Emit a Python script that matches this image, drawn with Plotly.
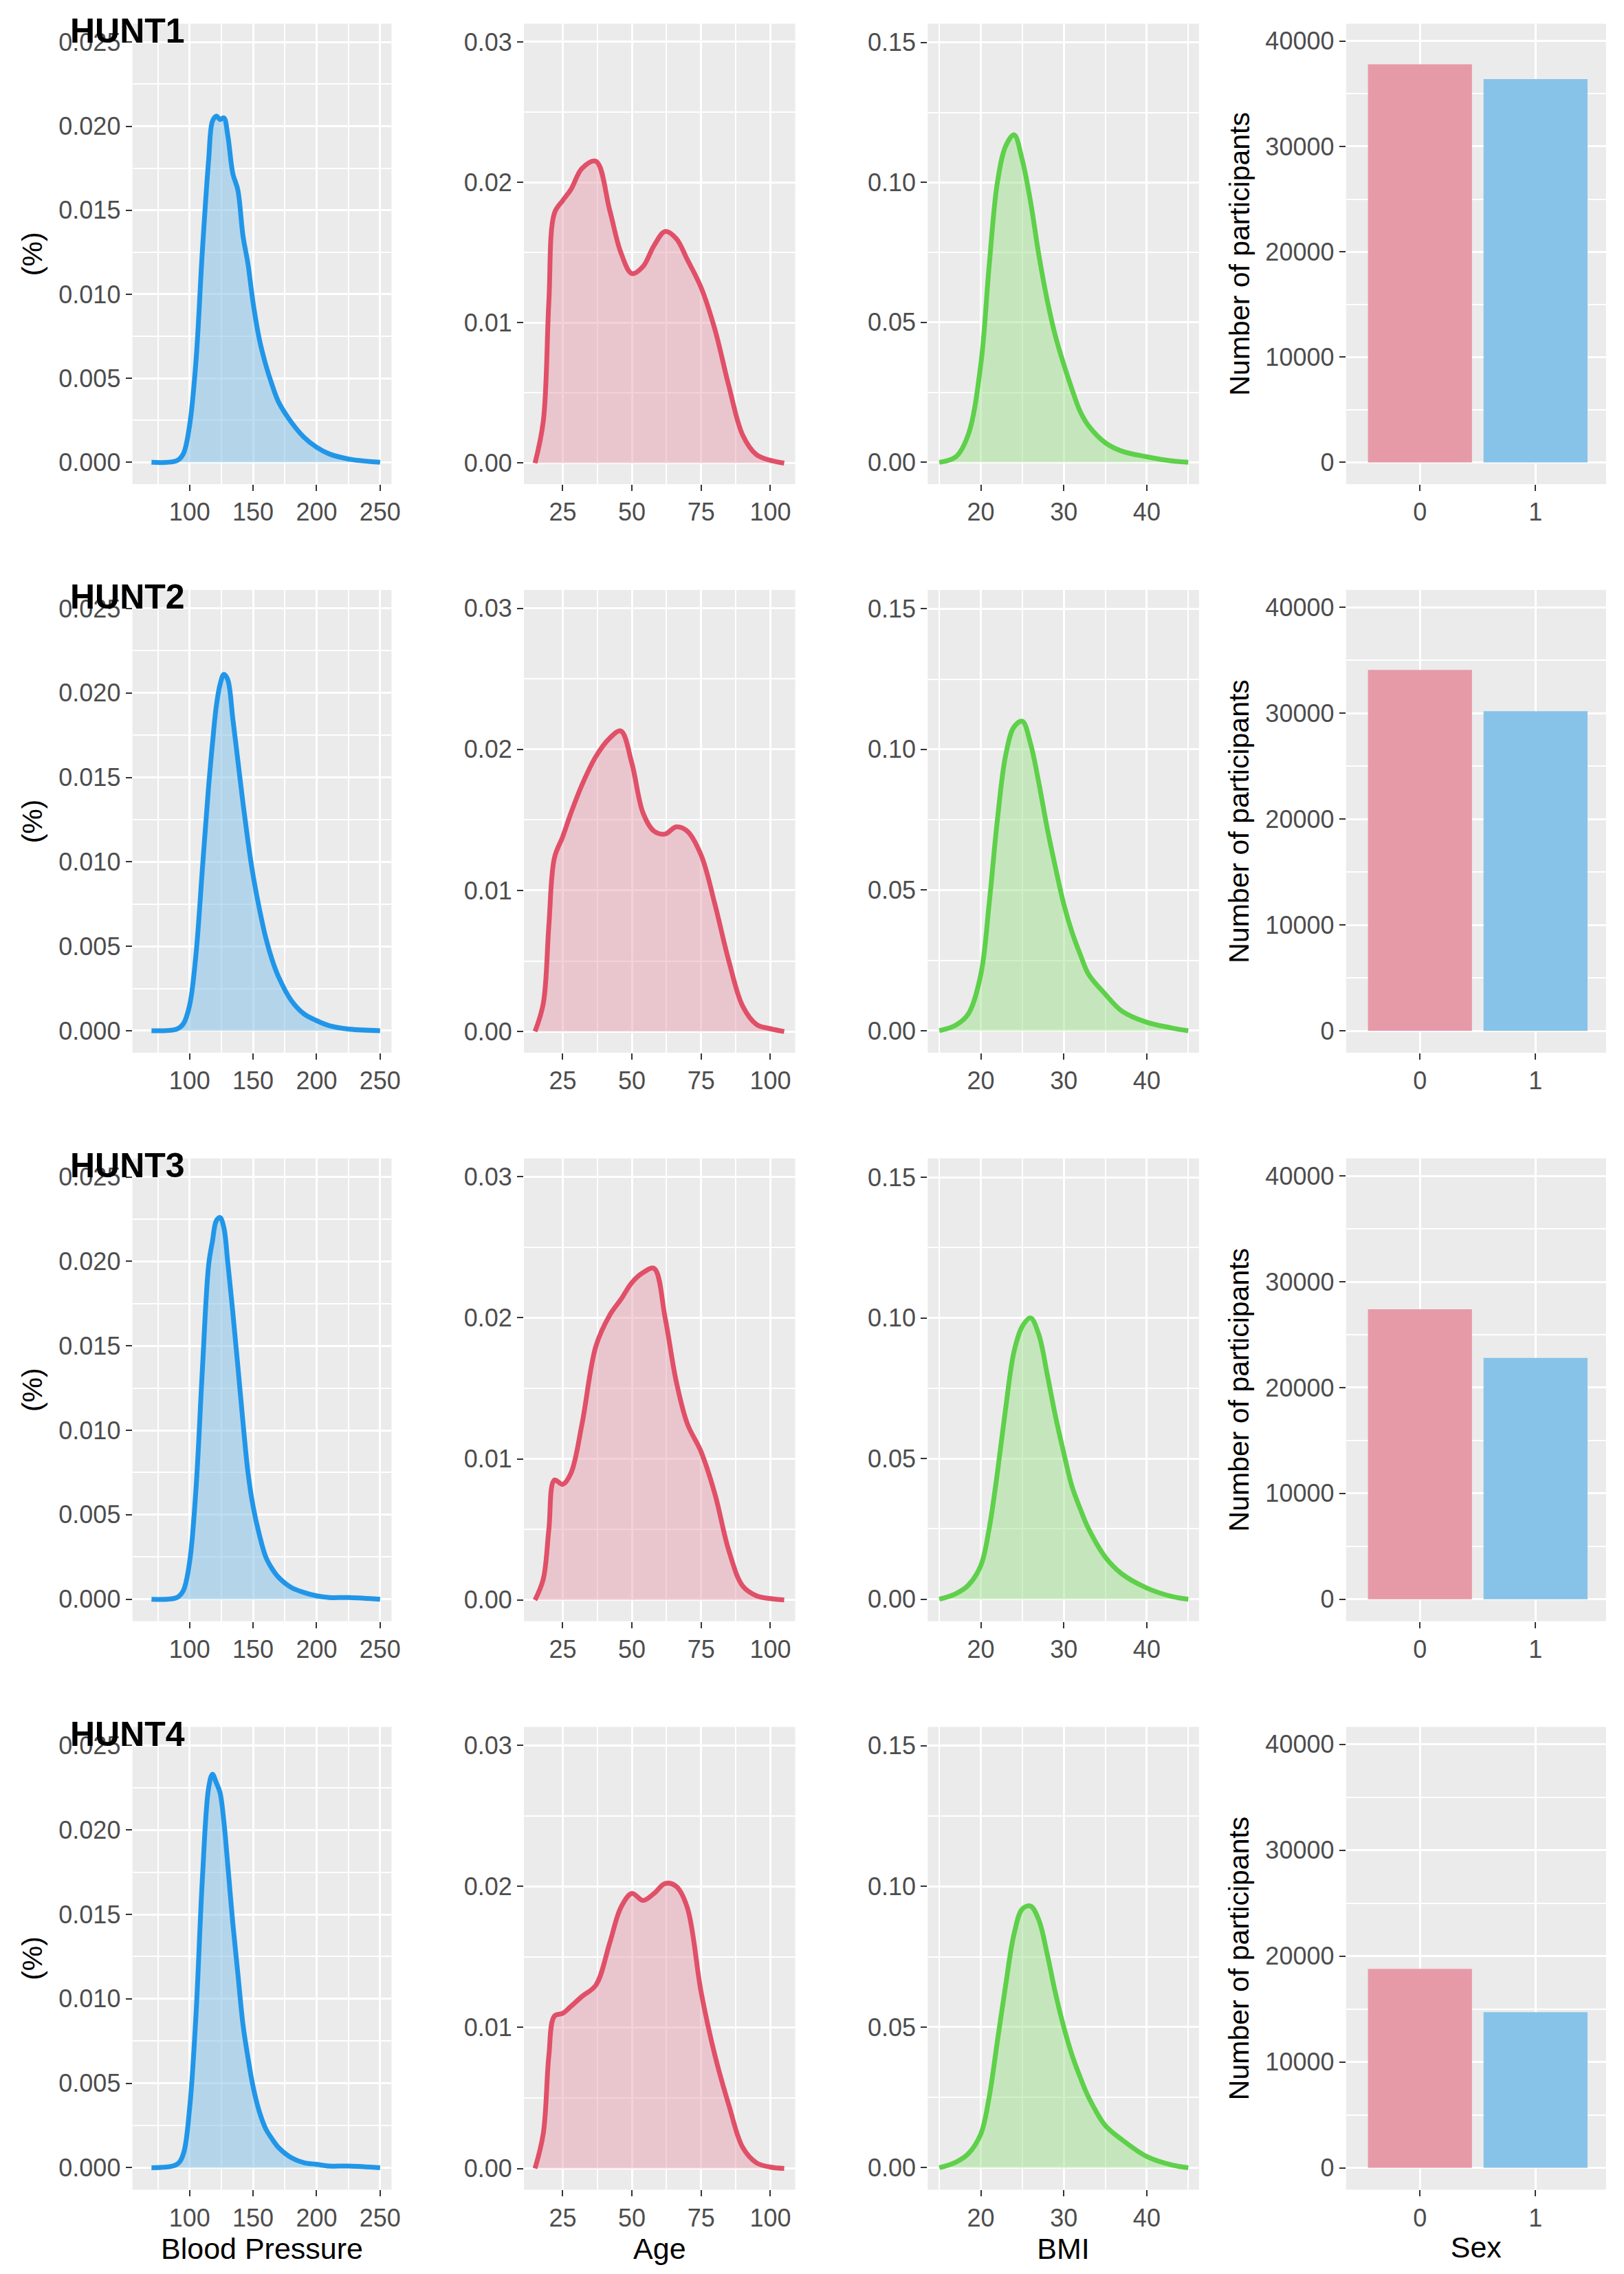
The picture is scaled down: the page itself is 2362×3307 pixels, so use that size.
import plotly.graph_objects as go
from plotly.subplots import make_subplots

cohorts = ["HUNT1", "HUNT2", "HUNT3", "HUNT4"]

# Blood pressure densities
bp_x = [70, 90, 95, 100, 105, 110, 115, 118, 121, 124, 127, 130, 134, 138, 142, 146, 150, 155, 160, 165, 170, 180, 190, 200, 210, 225, 250]
bp_y = {
    "HUNT1": [0, 0.0001, 0.0005, 0.0022, 0.006, 0.0125, 0.018, 0.0203, 0.0206, 0.0204, 0.0205, 0.0195, 0.0172, 0.0162, 0.0135, 0.0118, 0.0095, 0.0073, 0.0058, 0.0046, 0.0036, 0.0024, 0.0015, 0.0009, 0.0005, 0.0002, 0],
    "HUNT2": [0, 0.0001, 0.0004, 0.0015, 0.0045, 0.0095, 0.0145, 0.017, 0.0192, 0.0205, 0.0211, 0.0208, 0.0185, 0.016, 0.0135, 0.0112, 0.0092, 0.0072, 0.0055, 0.0042, 0.0032, 0.0018, 0.001, 0.0006, 0.0003, 0.0001, 0],
    "HUNT3": [0, 0.0001, 0.0005, 0.0022, 0.0065, 0.0135, 0.0198, 0.0212, 0.0224, 0.0226, 0.022, 0.02, 0.017, 0.0138, 0.0105, 0.0075, 0.0055, 0.0038, 0.0025, 0.0018, 0.0013, 0.0007, 0.0004, 0.0002, 0.0001, 0.0001, 0],
    "HUNT4": [0, 0.0002, 0.0008, 0.0035, 0.009, 0.017, 0.0225, 0.0233, 0.0228, 0.0222, 0.0205, 0.018, 0.0145, 0.0115, 0.0085, 0.0065, 0.0048, 0.0033, 0.0023, 0.0017, 0.0012, 0.0006, 0.0003, 0.0002, 0.0001, 0.0001, 0],
}

# Age densities
age_x = [15, 18, 20, 22, 25, 28, 32, 37, 42, 46, 50, 54, 58, 62, 66, 70, 75, 80, 85, 90, 95, 100, 105]
age_y = {
    "HUNT1": [0, 0.003, 0.0115, 0.0178, 0.0187, 0.0195, 0.021, 0.0215, 0.018, 0.015, 0.0135, 0.014, 0.0155, 0.0165, 0.016, 0.0145, 0.0125, 0.0095, 0.0055, 0.002, 0.0006, 0.0002, 0],
    "HUNT2": [0, 0.002, 0.0075, 0.0123, 0.0138, 0.0155, 0.0175, 0.0195, 0.0208, 0.0213, 0.019, 0.0155, 0.0142, 0.014, 0.0145, 0.0142, 0.0125, 0.009, 0.005, 0.0018, 0.0005, 0.0002, 0],
    "HUNT3": [0, 0.0015, 0.005, 0.0085, 0.0082, 0.009, 0.0125, 0.018, 0.0202, 0.0213, 0.0225, 0.0232, 0.0235, 0.02, 0.0155, 0.0125, 0.0105, 0.0075, 0.0035, 0.001, 0.0003, 0.0001, 0],
    "HUNT4": [0, 0.0025, 0.008, 0.0108, 0.011, 0.0115, 0.0122, 0.013, 0.016, 0.0185, 0.0195, 0.019, 0.0195, 0.0202, 0.02, 0.0185, 0.0125, 0.008, 0.0045, 0.0015, 0.0004, 0.0001, 0],
}

# BMI densities
bmi_x = [15, 17, 18.5, 20, 21, 22, 23, 24, 25, 26, 27, 28, 29, 30, 31, 32, 33, 35, 37, 40, 43, 45]
bmi_y = {
    "HUNT1": [0, 0.002, 0.01, 0.035, 0.07, 0.1, 0.113, 0.117, 0.108, 0.093, 0.074, 0.058, 0.045, 0.035, 0.026, 0.018, 0.013, 0.007, 0.004, 0.002, 0.0005, 0],
    "HUNT2": [0, 0.002, 0.006, 0.02, 0.045, 0.075, 0.098, 0.108, 0.11, 0.102, 0.088, 0.072, 0.058, 0.045, 0.035, 0.027, 0.02, 0.013, 0.007, 0.003, 0.001, 0],
    "HUNT3": [0, 0.002, 0.005, 0.012, 0.025, 0.045, 0.068, 0.088, 0.097, 0.1, 0.094, 0.08, 0.065, 0.052, 0.04, 0.032, 0.025, 0.015, 0.009, 0.004, 0.001, 0],
    "HUNT4": [0, 0.002, 0.005, 0.012, 0.025, 0.045, 0.065, 0.083, 0.092, 0.093, 0.088, 0.076, 0.062, 0.05, 0.04, 0.032, 0.025, 0.015, 0.01, 0.004, 0.001, 0],
}

# Sex counts
sex_cats = [0, 1]
sex_counts = {
    "HUNT1": [37800, 36400],
    "HUNT2": [34100, 30200],
    "HUNT3": [27400, 22800],
    "HUNT4": [18800, 14700],
}

W, H = 2362, 3307
FS = 36
fig = make_subplots(rows=4, cols=4)

xdom = [(0.0786, 0.239), (0.321, 0.489), (0.571, 0.739), (0.830, 0.991)]
ydom = [(0.7895, 0.992), (0.5395, 0.743), (0.2895, 0.493), (0.0395, 0.243)]

blue, red, green = "#2196E8", "#E05068", "#5ED04A"

for r, c in enumerate(cohorts):
    row = r + 1
    fig.add_trace(go.Scatter(x=bp_x, y=bp_y[c], mode="lines", line=dict(color=blue, width=7, shape="spline"),
                             fill="tozeroy", fillcolor="rgba(135,195,232,0.55)"), row=row, col=1)
    fig.add_trace(go.Scatter(x=age_x, y=age_y[c], mode="lines", line=dict(color=red, width=7, shape="spline"),
                             fill="tozeroy", fillcolor="rgba(230,154,168,0.45)"), row=row, col=2)
    fig.add_trace(go.Scatter(x=bmi_x, y=bmi_y[c], mode="lines", line=dict(color=green, width=7, shape="spline"),
                             fill="tozeroy", fillcolor="rgba(150,225,130,0.45)"), row=row, col=3)
    fig.add_trace(go.Bar(x=sex_cats, y=sex_counts[c], marker=dict(color=["#E69AA8", "#87C3E8"], line=dict(width=0)),
                         width=0.9), row=row, col=4)

axstyle = dict(showgrid=True, gridcolor="white", gridwidth=3, zeroline=False, ticks="outside", ticklen=9,
               tickcolor="#333333", tickwidth=2, tickfont=dict(size=FS, color="#4D4D4D"), showline=False)

for r in range(4):
    row = r + 1
    settings = [
        (dict(range=[55, 259], tickvals=[100, 150, 200, 250], minor=dict(tickvals=[75, 125, 175, 225], showgrid=True, gridcolor="white", gridwidth=1.5)),
         dict(range=[-0.0013, 0.0261], tickvals=[0, 0.005, 0.01, 0.015, 0.02, 0.025], tickformat=".3f",
              minor=dict(tickvals=[0.0025, 0.0075, 0.0125, 0.0175, 0.0225], showgrid=True, gridcolor="white", gridwidth=1.5))),
        (dict(range=[11, 109], tickvals=[25, 50, 75, 100], minor=dict(tickvals=[37.5, 62.5, 87.5], showgrid=True, gridcolor="white", gridwidth=1.5)),
         dict(range=[-0.0015, 0.0313], tickvals=[0, 0.01, 0.02, 0.03], tickformat=".2f",
              minor=dict(tickvals=[0.005, 0.015, 0.025], showgrid=True, gridcolor="white", gridwidth=1.5))),
        (dict(range=[13.6, 46.3], tickvals=[20, 30, 40], minor=dict(tickvals=[15, 25, 35, 45], showgrid=True, gridcolor="white", gridwidth=1.5)),
         dict(range=[-0.0078, 0.1567], tickvals=[0, 0.05, 0.1, 0.15], tickformat=".2f",
              minor=dict(tickvals=[0.025, 0.075, 0.125], showgrid=True, gridcolor="white", gridwidth=1.5))),
        (dict(range=[-0.64, 1.61], tickvals=[0, 1]),
         dict(range=[-2069, 41655], tickvals=[0, 10000, 20000, 30000, 40000], tickformat="d",
              minor=dict(tickvals=[5000, 15000, 25000, 35000], showgrid=True, gridcolor="white", gridwidth=1.5))),
    ]
    for ci, (xs, ys) in enumerate(settings):
        col = ci + 1
        fig.update_xaxes(**axstyle, **xs, domain=xdom[ci], row=row, col=col)
        fig.update_yaxes(**axstyle, **ys, domain=ydom[r], row=row, col=col)
    fig.update_yaxes(title=dict(text="(%)", font=dict(size=41, color="black"), standoff=10), row=row, col=1)
    fig.update_yaxes(title=dict(text="Number of participants", font=dict(size=41, color="black"), standoff=10), row=row, col=4)
    fig.add_annotation(text="<b>" + cohorts[r] + "</b>", x=0.039, y=ydom[r][1] + 0.006, xref="paper", yref="paper",
                       xanchor="left", yanchor="top", showarrow=False, font=dict(size=50, color="black"))

for ci, t in enumerate(["Blood Pressure", "Age", "BMI", "Sex"]):
    fig.update_xaxes(title=dict(text=t, font=dict(size=43, color="black"), standoff=8), row=4, col=ci + 1)

fig.update_layout(width=W, height=H, showlegend=False, plot_bgcolor="#EBEBEB", paper_bgcolor="white",
                  font=dict(family="Liberation Sans"), margin=dict(l=0, r=0, t=0, b=0), bargap=0.1)

fig.write_html("out.html")
